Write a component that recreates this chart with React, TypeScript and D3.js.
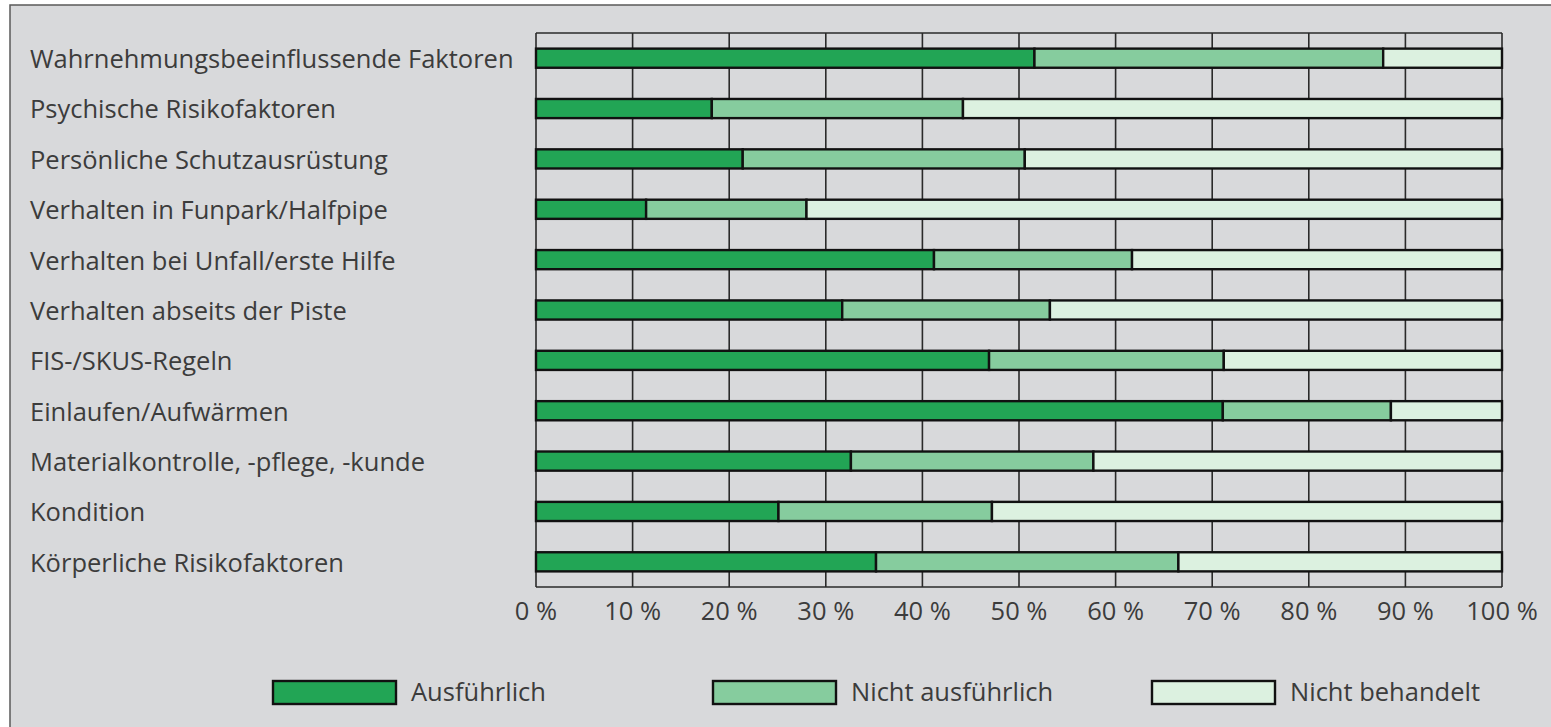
import React from "react";
import * as d3 from "d3";

const categories = [
  "Wahrnehmungsbeeinflussende Faktoren",
  "Psychische Risikofaktoren",
  "Persönliche Schutzausrüstung",
  "Verhalten in Funpark/Halfpipe",
  "Verhalten bei Unfall/erste Hilfe",
  "Verhalten abseits der Piste",
  "FIS-/SKUS-Regeln",
  "Einlaufen/Aufwärmen",
  "Materialkontrolle, -pflege, -kunde",
  "Kondition",
  "Körperliche Risikofaktoren",
];
const ausfuehrlich = [51.6, 18.2, 21.4, 11.4, 41.2, 31.7, 46.9, 71.1, 32.6, 25.1, 35.2];
const nichtAusfuehrlich = [36.1, 26.0, 29.2, 16.6, 20.5, 21.5, 24.3, 17.4, 25.1, 22.1, 31.3];
const nichtBehandelt = categories.map((_, i) => 100 - ausfuehrlich[i] - nichtAusfuehrlich[i]);
const seriesNames = ["Ausführlich", "Nicht ausführlich", "Nicht behandelt"];
const seriesColors = ["#22a555", "#86cc9e", "#dcf1e0"];
const tickValues = [0, 10, 20, 30, 40, 50, 60, 70, 80, 90, 100];

const W = 1551;
const H = 727;
const FONT = "'Open Sans', 'Noto Sans', sans-serif";
const TEXT = "#3c3c3c";

export default function App() {
  const x = d3.scaleLinear().domain([0, 100]).range([536, 1502]);
  const y = d3
    .scaleBand<string>()
    .domain(categories)
    .range([33, 587])
    .paddingInner(0.62)
    .paddingOuter(0.31);

  const rows = categories.map((c, i) => ({
    cat: c,
    a: ausfuehrlich[i],
    n: nichtAusfuehrlich[i],
    b: nichtBehandelt[i],
  }));
  const stack = d3.stack<any>().keys(["a", "n", "b"])(rows);

  const legendX = [273, 713, 1152];

  return (
    <svg width={W} height={H} style={{ position: "absolute", left: 0, top: 0, background: "#ffffff" }}>
      <rect x={10} y={5} width={W + 20} height={H + 20} fill="#d8d9db" stroke="#5a5a5a" strokeWidth={1.5} />
      {tickValues.map((t) => (
        <line key={t} x1={x(t)} x2={x(t)} y1={33} y2={587} stroke="#2a2a2a" strokeWidth={1.6} />
      ))}
      <line x1={x(0)} x2={x(100)} y1={33} y2={33} stroke="#2a2a2a" strokeWidth={1.6} />
      <line x1={x(0)} x2={x(100)} y1={587} y2={587} stroke="#2a2a2a" strokeWidth={1.6} />
      {stack.map((s, si) =>
        s.map((d, i) => (
          <rect
            key={si + "-" + i}
            x={x(d[0])}
            y={y(categories[i])!}
            width={x(d[1]) - x(d[0])}
            height={y.bandwidth()}
            fill={seriesColors[si]}
            stroke="#111"
            strokeWidth={2.4}
          />
        ))
      )}
      {categories.map((c) => (
        <text
          key={c}
          x={30}
          y={y(c)! + y.bandwidth() / 2 + 1}
          dy="0.35em"
          fontFamily={FONT}
          fontSize={25.5}
          fill={TEXT}
        >
          {c}
        </text>
      ))}
      {tickValues.map((t) => (
        <text
          key={"t" + t}
          x={x(t)}
          y={611}
          dy="0.35em"
          textAnchor="middle"
          fontFamily={FONT}
          fontSize={25.5}
          fill={TEXT}
        >
          {t + "\u00a0%"}
        </text>
      ))}
      {seriesNames.map((n, i) => (
        <g key={n}>
          <rect
            x={legendX[i]}
            y={681}
            width={123}
            height={23}
            fill={seriesColors[i]}
            stroke="#111"
            strokeWidth={2.4}
          />
          <text x={legendX[i] + 138} y={692} dy="0.35em" fontFamily={FONT} fontSize={25.5} fill={TEXT}>
            {n}
          </text>
        </g>
      ))}
    </svg>
  );
}
